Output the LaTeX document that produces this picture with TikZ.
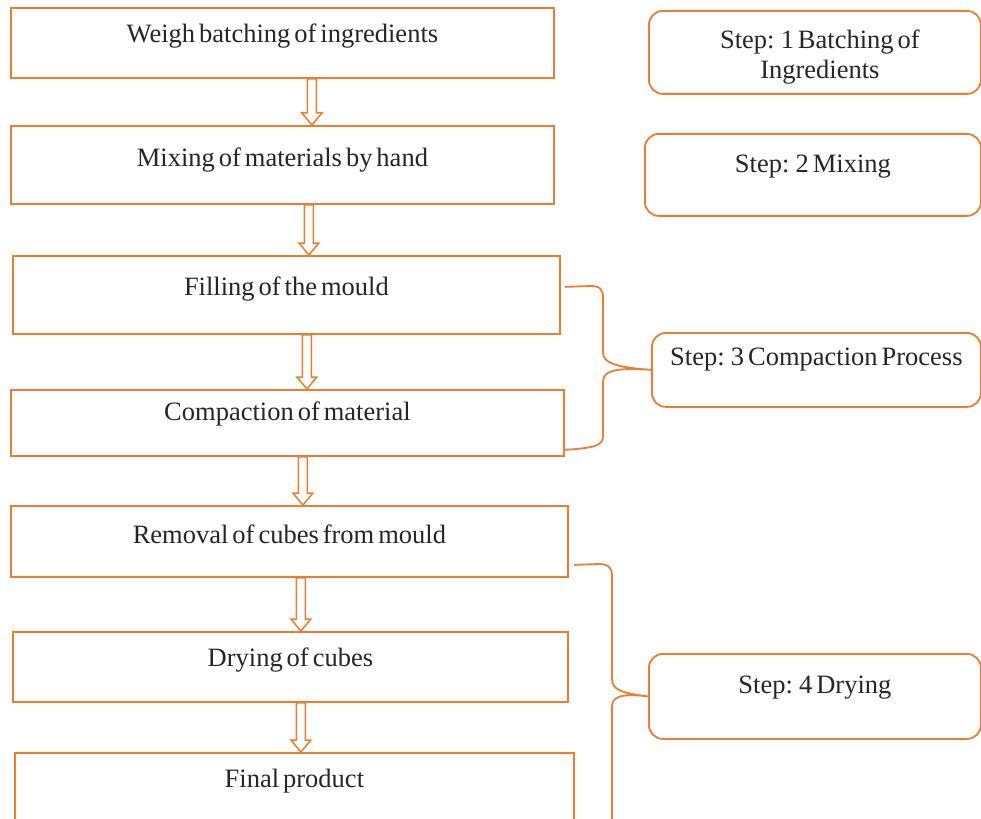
\documentclass[tikz,border=0pt]{standalone}
\usepackage{fontspec}
\setmainfont[WordSpace=0.6]{Liberation Serif}
\usetikzlibrary{calc}
\definecolor{orng}{HTML}{ED7D31}
\tikzset{
  box/.style={draw=orng, line width=1.8pt, fill=white, anchor=north west, inner sep=0pt},
  stepbox/.style={draw=orng, line width=1.8pt, rounded corners=14pt, anchor=north west, inner sep=0pt},
  txt/.style={font=\fontsize{26.5}{29}\selectfont, text=black!85, inner sep=0pt, anchor=center},
  bracel/.style={draw=orng, line width=1.8pt},
  blockarrow/.style={draw=orng, line width=1.5pt, fill=white,
    to path={let \p1=(\tikztostart), \p2=(\tikztotarget) in
      (\x1-4.5pt,\y1) -- (\x1-4.5pt,\y2+12pt) -- (\x1-10pt,\y2+12pt) -- (\x1,\y2)
      -- (\x1+10pt,\y2+12pt) -- (\x1+4.5pt,\y2+12pt) -- (\x1+4.5pt,\y1) -- cycle}}
}
\begin{document}
\begin{tikzpicture}[x=1pt,y=-1pt]
\useasboundingbox (0,0) rectangle (981,818);
\clip (0,0) rectangle (981,818);
% left boxes
\node[box, minimum width=543pt, minimum height=70pt] (b1) at (10,7) {};
\node[box, minimum width=543pt, minimum height=78pt] (b2) at (10,125) {};
\node[box, minimum width=547pt, minimum height=78pt] (b3) at (12,255) {};
\node[box, minimum width=553pt, minimum height=66pt] (b4) at (10,389) {};
\node[box, minimum width=557pt, minimum height=71pt] (b5) at (10,505) {};
\node[box, minimum width=555pt, minimum height=70pt] (b6) at (12,631) {};
\node[box, minimum width=559pt, minimum height=90pt] (b7) at (14,752) {};
% texts
\node[txt] (t1) at ($(b1.north)+(0,29)$) {Weigh batching of ingredients};
\node[txt] (t2) at ($(b2.north)+(0,35)$) {Mixing of materials by hand};
\node[txt] (t3) at ($(b3.north)+(0,34)$) {Filling of the mould};
\node[txt] (t4) at ($(b4.north)+(0,25)$) {Compaction of material};
\node[txt] (t5) at ($(b5.north)+(0,29)$) {Removal of cubes from mould};
\node[txt] (t6) at ($(b6.north)+(0,29)$) {Drying of cubes};
\node[txt] (t7) at ($(b7.north)+(0,29)$) {Final product};
% arrows
\draw[blockarrow] ([xshift=29.5pt]b1.south) to ([xshift=29.5pt]b1.south |- b2.north);
\draw[blockarrow] ([xshift=26.5pt]b2.south) to ([xshift=26.5pt]b2.south |- b3.north);
\draw[blockarrow] ([xshift=20.5pt]b3.south) to ([xshift=20.5pt]b3.south |- b4.north);
\draw[blockarrow] ([xshift=15.5pt]b4.south) to ([xshift=15.5pt]b4.south |- b5.north);
\draw[blockarrow] ([xshift=11.5pt]b5.south) to ([xshift=11.5pt]b5.south |- b6.north);
\draw[blockarrow] ([xshift=10.5pt]b6.south) to ([xshift=10.5pt]b6.south |- b7.north);
% step boxes
\node[stepbox, minimum width=332pt, minimum height=83pt] (r1) at (648,10) {};
\node[stepbox, minimum width=336pt, minimum height=82pt] (r2) at (644,133) {};
\node[stepbox, minimum width=329pt, minimum height=74pt] (r3) at (651,332) {};
\node[stepbox, minimum width=332pt, minimum height=85pt] (r4) at (648,653) {};
\node[txt] (s1a) at ($(r1.north)+(5,32)$) {Step: 1 Batching of};
\node[txt] (s1b) at ($(r1.north)+(5,62)$) {Ingredients};
\node[txt] (s2) at ($(r2.north)+(0,34)$) {Step: 2 Mixing};
\node[txt] (s3) at ($(r3.north)+(0,28)$) {Step: 3 Compaction Process};
\node[txt] (s4) at ($(r4.north)+(0,35)$) {Step: 4 Drying};
% braces
\draw[bracel] ([xshift=4pt,yshift=8pt]b3.east) -- (590,286) .. controls (600,286) and (603,289) .. (603,298)
  -- (603,352) .. controls (603,362) and (612,367) .. (r3.west)
  .. controls (612,367) and (603,372) .. (603,382) -- (603,436)
  .. controls (603,445) and (596,448) .. ([yshift=7pt]b4.south east);
\draw[bracel] ([xshift=5pt,yshift=-23.5pt]b5.east) -- (598,564) .. controls (608,564) and (612,567) .. (612,576)
  -- (612,679) .. controls (612,689) and (620,693) .. (r4.west)
  .. controls (620,693) and (612,697) .. (612,707) -- (612,830);
\end{tikzpicture}
\end{document}
